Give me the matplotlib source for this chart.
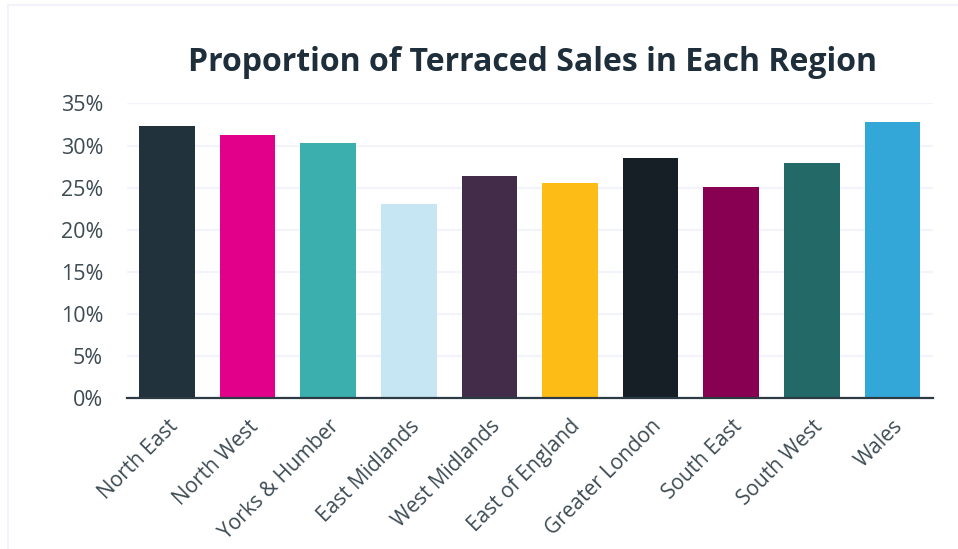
import matplotlib.pyplot as plt
from matplotlib.lines import Line2D
from matplotlib.ticker import FuncFormatter

regions = ['North East', 'North West', 'Yorks & Humber', 'East Midlands',
           'West Midlands', 'East of England', 'Greater London', 'South East',
           'South West', 'Wales']
terraced_pct = [32.3, 31.3, 30.3, 23.0, 26.4, 25.5, 28.5, 25.1, 27.9, 32.8]
bar_colors = ['#22323c', '#e2008a', '#3aafae', '#c5e6f2', '#432c4a',
              '#fdbd16', '#151f25', '#870051', '#226968', '#33a7d7']
y_ticks = [0, 5, 10, 15, 20, 25, 30, 35]

plt.rcParams['font.family'] = ['Open Sans', 'DejaVu Sans']

fig = plt.figure(figsize=(9.58, 5.49), dpi=100)
ax = fig.add_axes([0.1323, 0.275, 0.8413, 0.5365])

x = range(len(regions))
ax.bar(x, terraced_pct, width=0.69, color=bar_colors, zorder=3)

ax.set_xlim(-0.5, len(regions) - 0.5)
ax.set_ylim(0, 35)
ax.set_yticks(y_ticks)
ax.yaxis.set_major_formatter(FuncFormatter(lambda v, p: '%d%%' % v))
ax.grid(axis='y', color='#f3f3fb', linewidth=1.6, zorder=0)
ax.set_axisbelow(True)

ax.set_xticks(list(x))
ax.set_xticklabels(regions, rotation=45, ha='right', va='top',
                   rotation_mode='anchor', fontsize=15, color='#3d4b53')
ax.tick_params(axis='x', length=0, pad=13)
ax.tick_params(axis='y', length=0, pad=17, labelsize=15.5, labelcolor='#3d4b53')

for s in ['top', 'right', 'left']:
    ax.spines[s].set_visible(False)
ax.spines['bottom'].set_color('#2b3a43')
ax.spines['bottom'].set_linewidth(1.6)
ax.spines['bottom'].set_zorder(4)

fig.text(0.5558, 0.871, 'Proportion of Terraced Sales in Each Region',
         ha='center', va='baseline', fontsize=23, fontweight='bold', color='#1e2f3b')

# faint card border (top and left)
fig.add_artist(Line2D([0.008, 1.0], [0.991, 0.991], color='#f2f2fa', lw=1.5))
fig.add_artist(Line2D([0.008, 0.008], [0.0, 0.991], color='#f2f2fa', lw=1.5))

fig.savefig('out.png', dpi=100)
